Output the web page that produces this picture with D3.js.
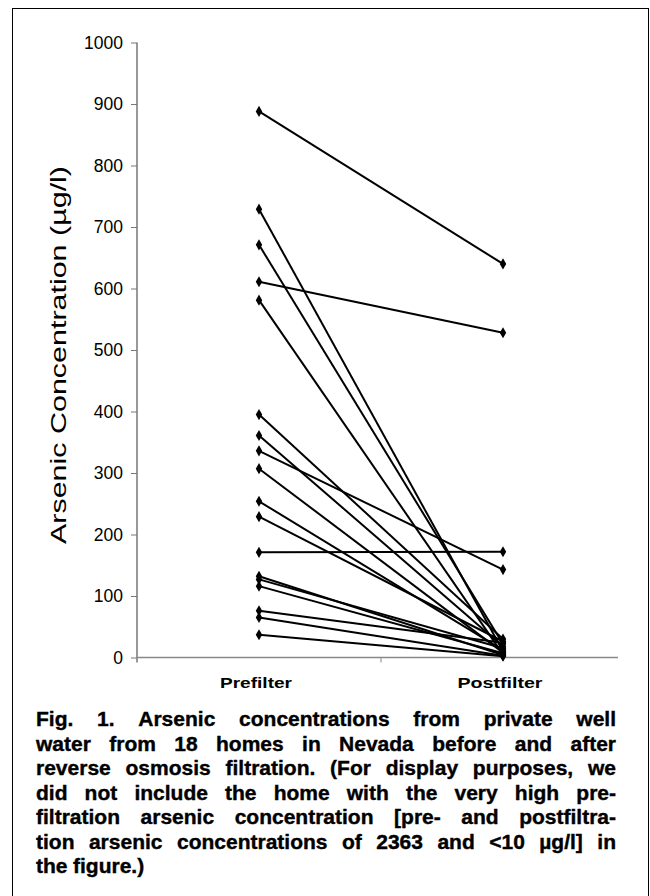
<!DOCTYPE html>
<html>
<head>
<meta charset="UTF-8">
<title>Arsenic concentrations</title>
<script src="https://cdn.jsdelivr.net/npm/d3@7/dist/d3.min.js"></script>
<style>
  body { margin: 0; background: #fff; }
  svg { display: block; }
  .tick text { font-family: "Liberation Sans", Arial, sans-serif; font-size: 17.5px; fill: #000; }
</style>
</head>
<body>
<div id="chart"></div>
<script>
// readings (ug/l), one per home; same order in both arrays
const groups = ["Prefilter", "Postfilter"];
const prefilter  = [888, 729, 671, 611, 581, 395, 361, 336, 307, 254, 229, 171, 132, 127, 116, 76, 65, 37];
const postfilter = [640, 10, 22, 528, 5, 30, 18, 143, 8, 12, 26, 172, 4, 15, 7, 24, 3, 2];
const yTicks = [0, 100, 200, 300, 400, 500, 600, 700, 800, 900, 1000];
const captionLines = [
  "Fig. 1. Arsenic concentrations from private well",
  "water from 18 homes in Nevada before and after",
  "reverse osmosis filtration. (For display purposes, we",
  "did not include the home with the very high pre-",
  "filtration arsenic concentration [pre- and postfiltra-",
  "tion arsenic concentrations of 2363 and <10 \u00b5g/l] in",
  "the figure.)"
];

const width = 650, height = 896;
const svg = d3.select("#chart").append("svg")
    .attr("width", width)
    .attr("height", height);

// frame round the whole figure
svg.append("rect")
    .attr("x", 12.5).attr("y", 8.5)
    .attr("width", 636).attr("height", 900)
    .attr("fill", "none").attr("stroke", "#000").attr("stroke-width", 1);

const x = d3.scaleBand().domain(groups).range([137, 625]);
const y = d3.scaleLinear().domain([0, 1000]).range([657.5, 42.5]);

// y axis
const yAxis = svg.append("g")
    .attr("transform", "translate(137,0)")
    .call(d3.axisLeft(y).tickValues(yTicks).tickSize(6).tickPadding(8).tickFormat(d3.format("d")));
yAxis.select(".domain").attr("stroke", "#333").attr("d", "M0," + y(1000) + "V" + (y(0) + 5));
yAxis.selectAll(".tick line").attr("stroke", "#777");

// x axis: baseline, divider tick and group labels
svg.append("line")
    .attr("x1", 137).attr("x2", 618)
    .attr("y1", y(0)).attr("y2", y(0))
    .attr("stroke", "#888").attr("stroke-width", 1.5);
svg.append("line")
    .attr("x1", x("Postfilter")).attr("x2", x("Postfilter"))
    .attr("y1", y(0)).attr("y2", y(0) + 5)
    .attr("stroke", "#888");
const labelWidth = { Prefilter: 72, Postfilter: 85 };
svg.selectAll("text.group")
    .data(groups)
    .join("text")
    .attr("class", "group")
    .attr("x", d => x(d) + x.bandwidth() / 2 - 3 - labelWidth[d] / 2)
    .attr("y", 687.5)
    .attr("textLength", d => labelWidth[d])
    .attr("lengthAdjust", "spacingAndGlyphs")
    .style("font-family", "Liberation Sans, Arial, sans-serif")
    .style("font-weight", "bold")
    .style("font-size", "15px")
    .text(d => d);

// y title
svg.append("text")
    .attr("transform", "translate(66,355) rotate(-90)")
    .attr("x", -189)
    .attr("textLength", 378)
    .attr("lengthAdjust", "spacingAndGlyphs")
    .style("font-family", "Liberation Sans, Arial, sans-serif")
    .style("font-size", "22px")
    .text("Arsenic Concentration (\u00b5g/l)");

// one line per home
const homes = prefilter.map((v, i) => ({ pre: v, post: postfilter[i] }));
const cx = g => x(g) + x.bandwidth() / 2;

svg.selectAll("line.home")
    .data(homes)
    .join("line")
    .attr("class", "home")
    .attr("x1", cx("Prefilter")).attr("y1", d => y(d.pre))
    .attr("x2", cx("Postfilter")).attr("y2", d => y(d.post))
    .attr("stroke", "#000").attr("stroke-width", 2);

const diamond = d3.symbol().type(d3.symbolDiamond).size(36);
const points = [];
homes.forEach(d => {
  points.push({ g: "Prefilter", v: d.pre });
  points.push({ g: "Postfilter", v: d.post });
});
svg.selectAll("path.pt")
    .data(points)
    .join("path")
    .attr("class", "pt")
    .attr("d", diamond)
    .attr("transform", d => "translate(" + cx(d.g) + "," + y(d.v) + ")")
    .attr("fill", "#000");

// caption, justified between left and right margins
const capLeft = 36, capRight = 616, capTop = 726, capStep = 24.5;
captionLines.forEach((line, i) => {
  const words = line.split(" ");
  const g = svg.append("g");
  const texts = words.map(w => g.append("text")
      .attr("y", capTop + i * capStep)
      .style("font-family", "Liberation Sans, Arial, sans-serif")
      .style("font-weight", "bold")
      .style("font-size", "21px")
      .style("stroke", "#000")
      .style("stroke-width", "0.4px")
      .text(w));
  const widths = texts.map(t => t.node().getComputedTextLength());
  const total = d3.sum(widths);
  const last = i === captionLines.length - 1;
  let gap = last ? 5.5 : (capRight - capLeft - total) / (words.length - 1);
  let k = 1;
  if (gap < 4.5) {
    gap = 4.5;
    k = (capRight - capLeft) / (total + gap * (words.length - 1));
  }
  let pos = 0;
  texts.forEach((t, j) => {
    t.attr("x", pos);
    pos += widths[j] + gap;
  });
  g.attr("transform", "translate(" + capLeft + ",0) scale(" + k + ",1)");
});
</script>
</body>
</html>
